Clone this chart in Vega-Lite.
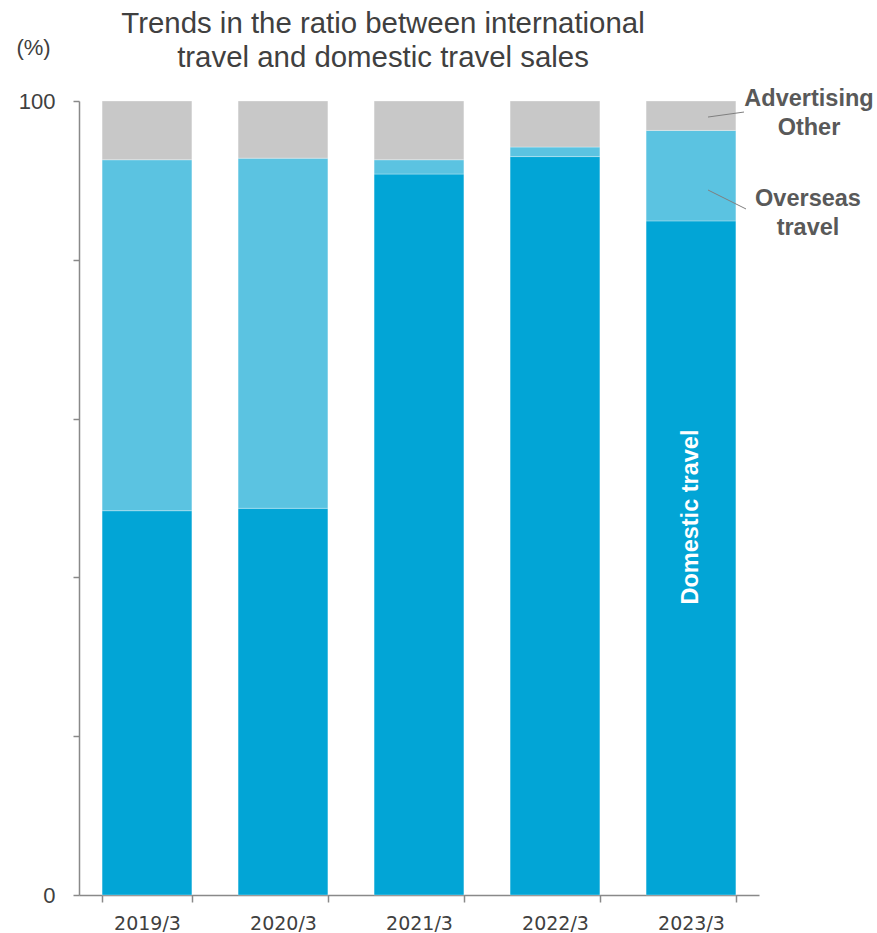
{
  "$schema": "https://vega.github.io/schema/vega-lite/v6.json",
  "width": 680,
  "height": 794,
  "autosize": "none",
  "padding": {"left": 79, "top": 101, "right": 118, "bottom": 38},
  "background": "white",
  "config": {"view": {"stroke": null}, "font": "Liberation Sans"},
  "title": {
    "text": ["Trends in the ratio between international", "travel and domestic travel sales"],
    "font": "Liberation Sans",
    "fontSize": 29.4,
    "fontWeight": "normal",
    "color": "#404040",
    "lineHeight": 34,
    "anchor": "middle",
    "frame": "group",
    "dx": -36,
    "offset": -37
  },
  "data": {
    "values": [
      {"year": "2019/3", "segment": "Domestic travel", "rank": 1, "value": 48.4},
      {"year": "2019/3", "segment": "Overseas travel", "rank": 2, "value": 44.2},
      {"year": "2019/3", "segment": "Advertising Other", "rank": 3, "value": 7.4},
      {"year": "2020/3", "segment": "Domestic travel", "rank": 1, "value": 48.7},
      {"year": "2020/3", "segment": "Overseas travel", "rank": 2, "value": 44.1},
      {"year": "2020/3", "segment": "Advertising Other", "rank": 3, "value": 7.2},
      {"year": "2021/3", "segment": "Domestic travel", "rank": 1, "value": 90.8},
      {"year": "2021/3", "segment": "Overseas travel", "rank": 2, "value": 1.8},
      {"year": "2021/3", "segment": "Advertising Other", "rank": 3, "value": 7.4},
      {"year": "2022/3", "segment": "Domestic travel", "rank": 1, "value": 93.0},
      {"year": "2022/3", "segment": "Overseas travel", "rank": 2, "value": 1.2},
      {"year": "2022/3", "segment": "Advertising Other", "rank": 3, "value": 5.8},
      {"year": "2023/3", "segment": "Domestic travel", "rank": 1, "value": 84.9},
      {"year": "2023/3", "segment": "Overseas travel", "rank": 2, "value": 11.4},
      {"year": "2023/3", "segment": "Advertising Other", "rank": 3, "value": 3.7}
    ]
  },
  "layer": [
    {
      "mark": {"type": "bar", "stroke": "#ffffff", "strokeWidth": 0.5, "strokeOpacity": 0.6},
      "encoding": {
        "x": {
          "field": "year",
          "type": "nominal",
          "sort": null,
          "scale": {"paddingInner": 0.34, "paddingOuter": 0.17},
          "axis": {
            "title": null,
            "labelAngle": 0,
            "tickBand": "extent",
            "tickSize": 7,
            "tickWidth": 1.5,
            "domainWidth": 1.5,
            "domainColor": "#898989",
            "tickColor": "#898989",
            "labelFont": "DejaVu Sans",
            "labelFontSize": 19,
            "labelColor": "#404040",
            "labelPadding": 12
          }
        },
        "y": {
          "field": "value",
          "type": "quantitative",
          "stack": "zero",
          "scale": {"domain": [0, 100], "nice": false},
          "axis": {
            "title": "(%)",
            "titleAngle": 0,
            "titleX": -46,
            "titleY": -54,
            "titleAlign": "center",
            "titleBaseline": "middle",
            "titleFont": "Liberation Sans",
            "titleFontSize": 22,
            "titleFontWeight": "normal",
            "titleColor": "#404040",
            "values": [0, 20, 40, 60, 80, 100],
            "labelExpr": "datum.value == 0 || datum.value == 100 ? datum.label : ''",
            "grid": false,
            "domainColor": "#898989",
            "tickColor": "#898989",
            "tickSize": 6,
            "tickWidth": 1.5,
            "domainWidth": 1.5,
            "labelFont": "Liberation Sans",
            "labelFontSize": 22,
            "labelColor": "#404040",
            "labelPadding": 18
          }
        },
        "color": {
          "field": "segment",
          "type": "nominal",
          "scale": {
            "domain": ["Domestic travel", "Overseas travel", "Advertising Other"],
            "range": ["#02A5D6", "#5BC3E1", "#C8C8C8"]
          },
          "legend": null
        },
        "order": {"field": "rank", "type": "quantitative", "sort": "ascending"}
      }
    },
    {
      "data": {"values": [{"label": "Domestic travel"}]},
      "mark": {"type": "text", "angle": 270, "font": "Liberation Sans", "fontWeight": "bold", "fontSize": 23.5, "color": "#ffffff", "align": "center", "baseline": "middle", "dx": 0},
      "encoding": {
        "x": {"datum": "2023/3", "type": "nominal"},
        "y": {"datum": 47.6, "type": "quantitative"},
        "text": {"field": "label"}
      }
    },
    {
      "data": {"values": [{"label": ["Advertising", "Other"]}]},
      "mark": {"type": "text", "font": "Liberation Sans", "fontWeight": "bold", "fontSize": 23.5, "color": "#595959", "align": "center", "baseline": "middle", "lineHeight": 29, "dx": 118},
      "encoding": {
        "x": {"datum": "2023/3", "type": "nominal"},
        "y": {"datum": 100.25, "type": "quantitative"},
        "text": {"field": "label"}
      }
    },
    {
      "data": {"values": [{"label": ["Overseas", "travel"]}]},
      "mark": {"type": "text", "font": "Liberation Sans", "fontWeight": "bold", "fontSize": 23.5, "color": "#595959", "align": "center", "baseline": "middle", "lineHeight": 29, "dx": 117},
      "encoding": {
        "x": {"datum": "2023/3", "type": "nominal"},
        "y": {"datum": 87.7, "type": "quantitative"},
        "text": {"field": "label"}
      }
    },
    {
      "data": {"values": [{"label": "Advertising Other"}]},
      "mark": {"type": "rule", "color": "#7F7F7F", "strokeWidth": 1, "xOffset": 17, "x2Offset": 53},
      "encoding": {
        "x": {"datum": "2023/3", "type": "nominal"},
        "x2": {"datum": "2023/3"},
        "y": {"datum": 97.98, "type": "quantitative"},
        "y2": {"datum": 98.61}
      }
    },
    {
      "data": {"values": [{"label": "Overseas travel"}]},
      "mark": {"type": "rule", "color": "#7F7F7F", "strokeWidth": 1, "xOffset": 17, "x2Offset": 55},
      "encoding": {
        "x": {"datum": "2023/3", "type": "nominal"},
        "x2": {"datum": "2023/3"},
        "y": {"datum": 88.79, "type": "quantitative"},
        "y2": {"datum": 86.4}
      }
    }
  ]
}
